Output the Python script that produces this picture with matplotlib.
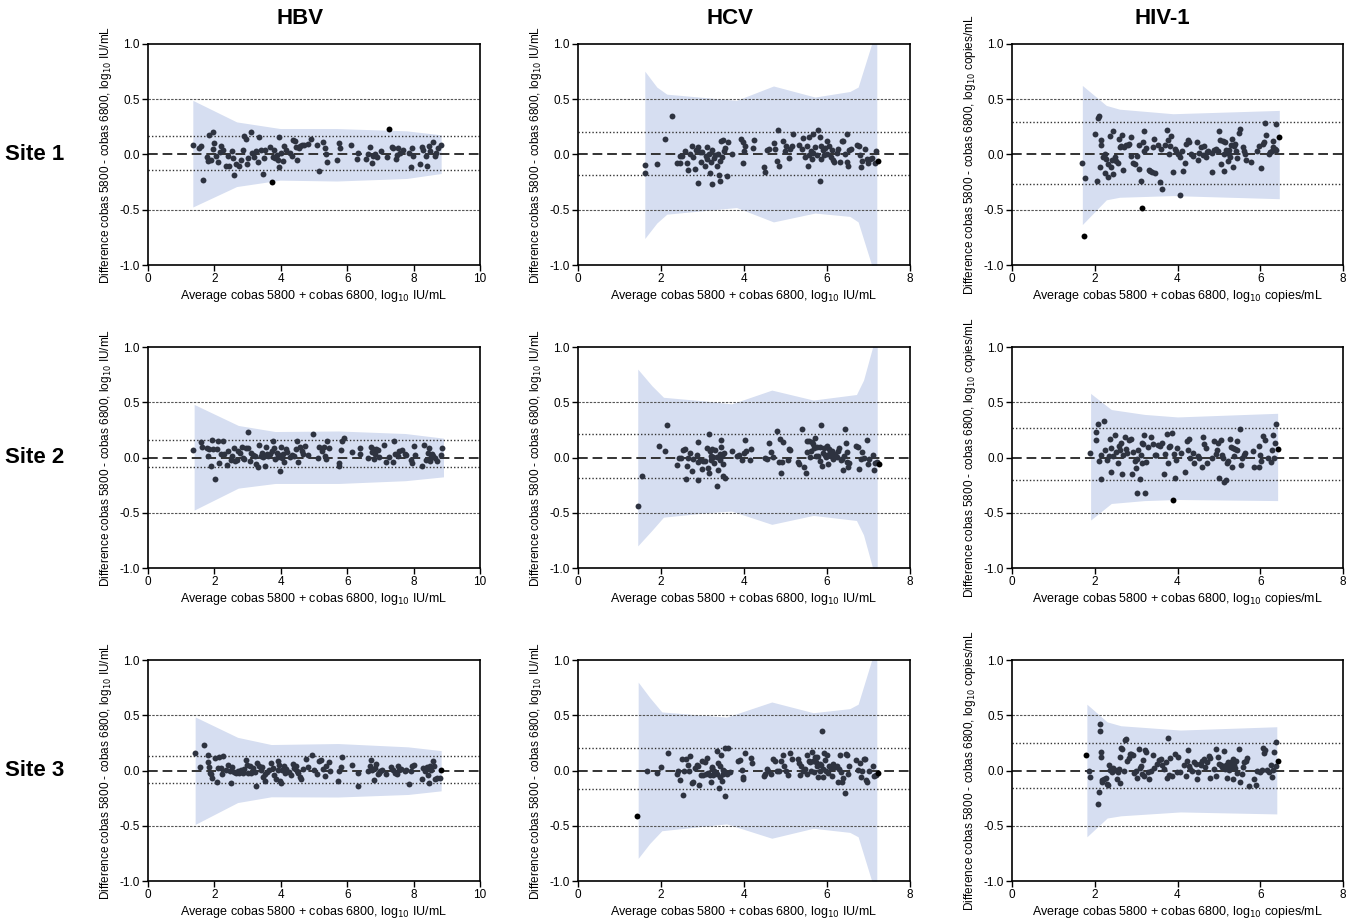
import matplotlib
matplotlib.use('Agg')
import matplotlib.pyplot as plt

plt.rcParams['font.family'] = ['Liberation Sans', 'DejaVu Sans']
plt.rcParams['axes.unicode_minus'] = False

# ---------------- labels ----------------
assays = ['HBV', 'HCV', 'HIV-1']
sites = ['Site 1', 'Site 2', 'Site 3']
units = ['IU/mL', 'IU/mL', 'copies/mL']
x_max = [10, 8, 8]
y_ticks = [-1.0, -0.5, 0.0, 0.5, 1.0]
y_tick_labels = ['-1.0', '-0.5', '0.0', '0.5', '1.0']

# ---------------- data: (average, difference) ----------------
hbv_s1 = [(1.35,0.085),(1.55,0.06),(1.6,0.08),(1.65,-0.23),(1.77,-0.02),(1.8,-0.06),(1.83,0.18),(1.89,-0.05),(1.95,0.05),(1.97,0.2),(2.0,0.1),(2.05,-0.015),(2.1,-0.07),(2.17,0.02),(2.2,0.075),(2.27,0.045),(2.35,-0.105),(2.4,-0.015),(2.45,-0.105),(2.52,0.03),(2.55,-0.035),(2.6,-0.19),(2.66,-0.085),(2.73,-0.1),(2.8,-0.05),(2.87,0.04),(2.9,0.17),(2.95,0.14),(2.99,-0.09),(3.02,-0.035),(3.1,0.2),(3.13,0.01),(3.19,-0.02),(3.26,0.035),(3.3,-0.065),(3.35,0.16),(3.4,0.04),(3.45,-0.18),(3.48,-0.035),(3.53,0.04),(3.67,0.07),(3.75,-0.02),(3.8,0.04),(3.84,-0.035),(3.88,-0.005),(3.92,-0.05),(3.96,0.16),(3.96,-0.11),(4.0,0.01),(4.06,-0.057),(4.1,0.075),(4.16,0.045),(4.28,0.01),(4.34,-0.015),(4.37,0.135),(4.43,0.125),(4.46,0.07),(4.48,-0.05),(4.54,0.06),(4.59,0.08),(4.65,0.09),(4.71,0.085),(4.81,0.095),(4.9,0.14),(5.1,0.09),(5.14,-0.145),(5.26,0.11),(5.33,0.06),(5.35,0.0),(5.38,-0.065),(5.68,-0.05),(5.76,0.1),(5.78,0.055),(6.11,0.09),(6.3,-0.045),(6.33,0.015),(6.57,-0.04),(6.64,0.0),(6.69,0.065),(6.76,-0.075),(6.79,-0.015),(6.85,0.0),(6.89,-0.027),(7.03,0.03),(7.19,-0.027),(7.34,0.065),(7.39,0.055),(7.46,-0.045),(7.49,-0.006),(7.54,0.06),(7.59,0.015),(7.69,0.04),(7.87,0.01),(7.91,-0.11),(7.94,0.055),(7.99,-0.015),(8.2,-0.09),(8.24,0.07),(8.29,0.04),(8.37,-0.015),(8.41,-0.1),(8.45,0.075),(8.49,0.03),(8.59,0.11),(8.64,-0.015),(8.67,0.01),(8.72,0.055),(8.83,0.09)]
hbv_s1_out = [(3.72,-0.25),(7.27,0.235)]

hbv_s2 = [(1.36,0.07),(1.59,0.14),(1.64,0.096),(1.77,0.084),(1.81,0.015),(1.85,0.075),(1.91,-0.075),(1.94,0.157),(1.97,0.075),(2.03,-0.196),(2.07,0.075),(2.11,0.15),(2.15,-0.054),(2.19,0.03),(2.27,0.145),(2.3,0.03),(2.38,-0.066),(2.42,0.06),(2.5,-0.024),(2.54,0.015),(2.58,0.084),(2.62,-0.03),(2.67,-0.024),(2.72,0.06),(2.77,0.045),(2.84,0.096),(2.87,0.0),(2.9,-0.015),(2.96,0.084),(3.0,0.235),(3.02,0.084),(3.07,-0.03),(3.1,0.045),(3.17,0.024),(3.22,0.015),(3.25,-0.06),(3.3,-0.084),(3.34,0.111),(3.4,0.015),(3.44,0.045),(3.47,0.006),(3.51,-0.078),(3.54,0.096),(3.58,0.036),(3.62,0.015),(3.67,0.03),(3.72,0.06),(3.76,0.145),(3.8,0.084),(3.83,-0.015),(3.88,0.045),(3.91,0.006),(3.94,0.024),(3.97,-0.126),(4.0,0.096),(4.03,-0.006),(4.07,0.036),(4.11,-0.045),(4.15,0.075),(4.19,0.054),(4.29,0.006),(4.35,0.024),(4.41,0.015),(4.46,0.075),(4.49,0.15),(4.51,-0.045),(4.58,0.096),(4.63,0.06),(4.68,0.03),(4.73,0.105),(4.83,0.024),(4.97,0.21),(5.11,-0.006),(5.15,0.096),(5.25,0.06),(5.29,0.096),(5.34,0.015),(5.36,-0.015),(5.4,0.15),(5.44,0.084),(5.74,-0.054),(5.76,-0.075),(5.82,0.066),(5.84,0.15),(5.9,0.175),(6.14,0.054),(6.38,0.084),(6.4,0.036),(6.62,0.0),(6.71,0.096),(6.75,0.054),(6.78,0.075),(6.82,-0.015),(6.85,0.03),(6.88,0.075),(6.93,0.066),(6.95,0.006),(7.12,0.114),(7.18,-0.045),(7.25,0.006),(7.37,-0.045),(7.4,0.15),(7.43,0.036),(7.53,0.015),(7.57,0.06),(7.65,0.066),(7.75,0.036),(7.78,0.024),(7.92,-0.024),(7.96,-0.054),(8.01,0.105),(8.04,0.024),(8.26,-0.075),(8.32,0.114),(8.38,-0.024),(8.42,0.045),(8.46,0.084),(8.48,-0.03),(8.52,0.006),(8.56,0.036),(8.59,0.015),(8.64,-0.006),(8.7,-0.036),(8.82,0.024),(8.86,0.09)]
hbv_s2_out = []

hbv_s3 = [(1.42,0.154),(1.56,0.033),(1.7,0.229),(1.8,0.136),(1.82,0.075),(1.84,0.033),(1.86,-0.021),(1.9,-0.036),(1.94,-0.066),(2.02,0.114),(2.08,-0.105),(2.1,0.024),(2.15,0.124),(2.2,0.024),(2.23,-0.036),(2.25,0.13),(2.35,0.009),(2.42,0.054),(2.46,-0.006),(2.5,-0.111),(2.52,0.033),(2.58,-0.015),(2.64,-0.027),(2.7,-0.006),(2.75,-0.021),(2.8,0.009),(2.85,-0.027),(2.9,0.015),(2.94,0.093),(2.98,0.054),(3.02,-0.027),(3.07,0.045),(3.11,-0.021),(3.17,0.024),(3.21,-0.015),(3.26,-0.142),(3.29,0.069),(3.33,0.045),(3.39,0.009),(3.43,0.033),(3.47,-0.057),(3.51,-0.096),(3.53,-0.036),(3.59,-0.015),(3.65,0.009),(3.71,0.069),(3.75,0.024),(3.81,-0.045),(3.86,-0.075),(3.91,0.084),(3.93,0.009),(3.96,0.054),(3.99,-0.096),(4.01,-0.117),(4.05,0.009),(4.09,0.039),(4.13,-0.027),(4.17,0.015),(4.26,-0.015),(4.31,-0.045),(4.36,0.063),(4.41,0.024),(4.45,0.045),(4.49,-0.006),(4.53,-0.027),(4.57,-0.057),(4.61,-0.075),(4.66,0.015),(4.75,0.105),(4.81,0.033),(4.93,0.139),(5.01,0.003),(5.09,-0.036),(5.14,0.09),(5.21,0.093),(5.27,0.015),(5.33,-0.051),(5.37,0.039),(5.44,0.075),(5.47,-0.006),(5.72,-0.096),(5.76,-0.006),(5.8,0.033),(5.85,0.124),(6.14,0.054),(6.32,-0.021),(6.34,-0.142),(6.62,-0.006),(6.69,0.045),(6.72,0.093),(6.75,0.003),(6.8,-0.087),(6.84,0.024),(6.88,0.063),(6.92,-0.036),(6.97,-0.027),(7.0,-0.006),(7.06,0.009),(7.17,-0.036),(7.33,0.033),(7.39,0.009),(7.45,-0.021),(7.49,-0.036),(7.53,0.039),(7.57,0.003),(7.63,0.015),(7.73,-0.006),(7.78,0.003),(7.85,-0.126),(7.91,-0.006),(7.95,0.039),(8.01,0.054),(8.25,-0.081),(8.28,0.024),(8.33,-0.006),(8.39,0.033),(8.43,-0.045),(8.45,-0.111),(8.49,0.039),(8.53,0.003),(8.57,0.084),(8.61,0.039),(8.65,-0.075),(8.71,-0.066),(8.79,-0.066)]
hbv_s3_out = [(8.83,0.003)]

hcv_s1 = [(1.61,-0.097),(1.61,-0.166),(1.9,-0.087),(2.09,0.142),(2.27,0.344),(2.39,-0.08),(2.46,-0.08),(2.46,-0.01),(2.5,-0.01),(2.59,0.033),(2.62,-0.08),(2.66,-0.136),(2.7,0.0),(2.75,0.075),(2.78,-0.02),(2.81,-0.127),(2.84,0.04),(2.89,-0.256),(2.9,0.066),(2.94,0.027),(2.96,-0.07),(2.99,0.027),(3.05,-0.106),(3.08,-0.015),(3.1,0.066),(3.12,-0.045),(3.15,0.003),(3.18,-0.166),(3.21,-0.07),(3.23,-0.27),(3.24,0.04),(3.28,-0.036),(3.31,-0.006),(3.34,-0.1),(3.37,0.009),(3.4,-0.184),(3.41,-0.24),(3.42,-0.057),(3.44,0.118),(3.46,-0.02),(3.49,0.13),(3.52,0.03),(3.55,0.057),(3.58,-0.196),(3.61,0.112),(3.7,0.0),(3.93,0.136),(3.97,-0.075),(3.98,0.112),(4.0,0.033),(4.02,0.081),(4.22,0.06),(4.25,0.133),(4.49,-0.11),(4.5,-0.154),(4.56,0.04),(4.61,0.054),(4.72,0.1),(4.75,0.048),(4.79,-0.057),(4.82,0.22),(4.84,-0.1),(4.95,0.124),(4.99,0.03),(5.01,0.075),(5.08,-0.036),(5.11,0.054),(5.17,0.184),(5.15,0.075),(5.33,0.087),(5.39,0.048),(5.43,0.15),(5.48,-0.02),(5.51,0.075),(5.54,-0.106),(5.56,0.16),(5.57,-0.006),(5.61,0.03),(5.63,-0.045),(5.66,0.19),(5.67,0.015),(5.71,0.07),(5.75,-0.006),(5.79,0.22),(5.82,0.16),(5.83,-0.238),(5.85,-0.045),(5.86,0.081),(5.9,0.04),(5.93,-0.003),(5.96,0.063),(5.99,0.118),(6.01,0.009),(6.06,0.075),(6.09,-0.02),(6.12,0.04),(6.15,-0.05),(6.18,-0.07),(6.23,0.015),(6.27,0.054),(6.31,-0.066),(6.35,0.124),(6.39,0.124),(6.44,0.009),(6.47,0.184),(6.49,-0.066),(6.51,-0.1),(6.54,0.045),(6.57,0.054),(6.73,0.09),(6.78,0.075),(6.8,-0.006),(6.81,-0.11),(6.84,-0.057),(6.92,0.054),(6.96,-0.045),(6.99,-0.081),(7.04,-0.039),(7.08,-0.036),(7.16,-0.08),(7.19,0.033)]
hcv_s1_out = [(7.24,-0.063)]

hcv_s2 = [(1.44,-0.44),(1.54,-0.17),(1.96,0.1),(2.1,0.063),(2.14,0.295),(2.38,-0.072),(2.43,0.0),(2.47,0.0),(2.52,0.069),(2.58,0.078),(2.6,-0.193),(2.63,-0.081),(2.65,-0.003),(2.7,0.039),(2.75,-0.123),(2.78,-0.012),(2.86,0.027),(2.88,-0.042),(2.89,0.139),(2.9,-0.2),(2.94,-0.027),(2.99,-0.102),(3.02,-0.033),(3.06,-0.033),(3.12,0.087),(3.14,-0.093),(3.15,0.214),(3.16,-0.142),(3.18,0.063),(3.2,0.018),(3.21,-0.027),(3.24,0.078),(3.26,0.009),(3.28,-0.051),(3.31,0.069),(3.34,-0.262),(3.36,0.009),(3.38,-0.111),(3.41,0.033),(3.42,-0.027),(3.44,0.16),(3.45,0.099),(3.47,0.018),(3.49,-0.063),(3.5,-0.163),(3.52,0.039),(3.54,-0.181),(3.71,0.057),(3.84,0.018),(3.89,0.027),(3.94,-0.027),(4.0,0.039),(4.02,0.16),(4.05,0.063),(4.14,-0.027),(4.18,0.075),(4.5,-0.003),(4.55,-0.012),(4.61,0.13),(4.66,0.048),(4.69,0.009),(4.8,0.238),(4.84,-0.045),(4.87,0.166),(4.88,-0.142),(4.91,-0.045),(4.95,0.139),(5.07,-0.027),(5.09,0.078),(5.11,0.069),(5.3,-0.045),(5.33,-0.057),(5.39,0.259),(5.45,-0.087),(5.49,-0.142),(5.51,0.048),(5.53,0.148),(5.56,0.148),(5.59,0.003),(5.61,0.057),(5.64,0.139),(5.66,0.124),(5.69,0.087),(5.71,0.178),(5.73,0.018),(5.75,0.093),(5.79,0.018),(5.82,0.099),(5.83,-0.033),(5.86,0.292),(5.88,-0.075),(5.9,0.039),(5.93,0.087),(5.95,0.027),(5.98,0.009),(5.99,0.105),(6.02,-0.063),(6.04,0.078),(6.06,0.033),(6.09,0.018),(6.11,0.063),(6.15,-0.012),(6.19,0.033),(6.23,0.009),(6.26,0.057),(6.3,0.087),(6.33,-0.021),(6.35,-0.012),(6.38,-0.111),(6.41,0.018),(6.43,0.256),(6.46,0.13),(6.47,0.048),(6.49,-0.045),(6.51,-0.087),(6.54,-0.051),(6.71,0.108),(6.75,0.093),(6.78,-0.102),(6.81,-0.012),(6.84,0.048),(6.88,-0.003),(6.96,0.16),(6.98,-0.063),(7.01,-0.012),(7.1,0.027),(7.13,-0.117),(7.16,-0.051),(7.2,-0.042)]
hcv_s2_out = [(7.25,-0.057)]

hcv_s3 = [(1.66,-0.006),(1.91,-0.024),(2.01,0.033),(2.16,0.16),(2.38,-0.03),(2.42,0.0),(2.46,-0.082),(2.5,0.1),(2.53,-0.218),(2.55,-0.009),(2.61,0.106),(2.66,0.051),(2.68,0.0),(2.71,0.13),(2.75,-0.112),(2.78,-0.1),(2.81,0.027),(2.86,0.051),(2.9,0.045),(2.92,-0.13),(2.96,-0.039),(2.99,0.082),(3.02,-0.039),(3.05,0.076),(3.08,-0.03),(3.12,0.112),(3.14,-0.021),(3.18,-0.039),(3.2,-0.1),(3.23,0.021),(3.24,0.03),(3.26,-0.045),(3.28,0.0),(3.31,-0.015),(3.34,0.172),(3.36,-0.03),(3.37,0.069),(3.39,-0.154),(3.41,0.045),(3.42,-0.06),(3.44,0.142),(3.46,-0.091),(3.49,0.009),(3.5,-0.03),(3.52,-0.009),(3.54,-0.233),(3.55,0.202),(3.58,-0.03),(3.62,0.208),(3.66,-0.015),(3.86,0.082),(3.9,0.091),(3.94,0.009),(3.97,-0.06),(3.98,-0.076),(4.03,0.16),(4.18,0.112),(4.2,0.069),(4.48,-0.051),(4.51,-0.03),(4.55,0.015),(4.59,-0.009),(4.66,-0.03),(4.69,0.1),(4.75,0.082),(4.79,0.0),(4.85,-0.009),(4.9,0.088),(4.93,0.136),(4.96,0.045),(5.01,0.0),(5.06,-0.039),(5.12,0.16),(5.15,0.1),(5.3,0.1),(5.33,0.069),(5.35,-0.039),(5.37,0.039),(5.41,0.0),(5.47,0.015),(5.51,0.142),(5.53,-0.03),(5.56,0.082),(5.59,0.076),(5.62,0.0),(5.64,0.166),(5.67,0.082),(5.69,-0.015),(5.72,0.121),(5.73,0.076),(5.75,0.045),(5.77,0.121),(5.79,-0.06),(5.82,0.06),(5.83,0.0),(5.85,0.051),(5.88,0.353),(5.9,-0.06),(5.91,0.015),(5.93,0.16),(5.95,0.091),(5.98,-0.009),(5.99,0.142),(6.03,-0.021),(6.06,0.045),(6.09,0.021),(6.12,-0.051),(6.15,0.06),(6.19,0.03),(6.23,0.045),(6.27,-0.1),(6.3,0.015),(6.31,0.136),(6.33,-0.015),(6.35,-0.1),(6.39,-0.069),(6.43,-0.202),(6.46,0.151),(6.49,0.136),(6.51,-0.03),(6.54,0.045),(6.71,0.091),(6.75,0.009),(6.8,0.069),(6.81,-0.06),(6.84,0.0),(6.88,0.106),(6.92,0.1),(6.94,-0.082),(6.97,-0.1),(7.02,0.0),(7.1,0.039),(7.13,-0.051),(7.18,-0.039)]
hcv_s3_out = [(1.43,-0.408),(7.24,-0.021)]

hiv_s1 = [(1.69,-0.079),(1.77,-0.21),(2.01,0.187),(2.06,-0.236),(2.08,0.332),(2.1,0.344),(2.12,-0.11),(2.14,0.127),(2.14,0.082),(2.2,-0.024),(2.24,-0.17),(2.25,0.006),(2.28,-0.04),(2.32,-0.2),(2.33,-0.085),(2.36,0.163),(2.39,-0.115),(2.41,-0.054),(2.44,0.21),(2.45,-0.18),(2.5,-0.024),(2.52,-0.063),(2.55,-0.079),(2.59,0.136),(2.6,0.066),(2.64,0.073),(2.67,0.18),(2.68,-0.14),(2.71,0.066),(2.76,0.082),(2.8,0.088),(2.83,0.097),(2.88,0.157),(2.88,-0.018),(2.92,-0.079),(2.97,-0.09),(3.02,-0.018),(3.06,0.082),(3.08,-0.133),(3.12,-0.236),(3.16,0.112),(3.18,0.03),(3.2,0.21),(3.25,0.06),(3.31,-0.139),(3.34,-0.151),(3.38,-0.16),(3.41,0.066),(3.42,0.142),(3.45,-0.169),(3.53,0.082),(3.57,-0.245),(3.6,0.051),(3.63,-0.311),(3.69,0.082),(3.74,0.218),(3.77,0.127),(3.79,0.006),(3.81,0.073),(3.85,0.163),(3.89,-0.16),(3.93,0.051),(3.97,0.036),(4.0,0.006),(4.05,-0.024),(4.07,-0.363),(4.1,0.036),(4.14,-0.151),(4.19,-0.079),(4.21,0.091),(4.25,0.127),(4.27,0.112),(4.33,0.0),(4.37,-0.018),(4.47,0.112),(4.49,-0.054),(4.53,0.012),(4.57,0.066),(4.61,-0.009),(4.65,0.073),(4.68,-0.024),(4.72,0.021),(4.73,0.036),(4.83,0.018),(4.84,-0.16),(4.89,0.042),(4.93,0.051),(4.97,0.03),(5.01,0.21),(5.03,0.127),(5.06,-0.085),(5.09,0.118),(5.12,-0.151),(5.13,0.006),(5.16,0.112),(5.17,0.042),(5.21,-0.06),(5.24,0.006),(5.25,0.042),(5.28,-0.024),(5.29,0.082),(5.32,0.142),(5.33,-0.109),(5.36,0.073),(5.38,0.097),(5.41,0.036),(5.45,-0.03),(5.49,0.193),(5.51,0.233),(5.59,0.066),(5.61,0.036),(5.64,0.006),(5.66,-0.054),(5.78,-0.069),(5.91,0.036),(5.96,0.073),(6.02,-0.121),(6.06,0.091),(6.1,0.112),(6.12,0.284),(6.14,0.172),(6.2,0.006),(6.23,0.021),(6.28,0.036),(6.3,0.121),(6.31,0.066),(6.35,0.051),(6.38,0.272),(6.39,0.042)]
hiv_s1_out = [(1.73,-0.74),(3.14,-0.483),(6.46,0.157)]

hiv_s2 = [(1.89,0.042),(2.02,0.157),(2.04,0.232),(2.08,0.307),(2.1,-0.03),(2.14,-0.193),(2.16,0.021),(2.22,0.328),(2.24,0.066),(2.3,-0.024),(2.34,0.012),(2.37,0.166),(2.39,0.09),(2.4,-0.13),(2.44,0.018),(2.48,0.208),(2.51,0.051),(2.55,-0.048),(2.58,0.102),(2.6,0.066),(2.63,0.127),(2.66,-0.145),(2.68,0.021),(2.72,0.187),(2.75,0.081),(2.79,0.042),(2.82,0.157),(2.87,0.169),(2.9,-0.151),(2.93,0.051),(2.97,-0.03),(2.99,-0.093),(3.02,-0.325),(3.03,-0.018),(3.05,0.072),(3.09,-0.199),(3.11,0.021),(3.13,-0.054),(3.14,0.127),(3.17,0.12),(3.19,0.202),(3.22,-0.325),(3.25,-0.039),(3.29,0.096),(3.37,0.187),(3.41,0.12),(3.45,0.021),(3.49,0.021),(3.53,0.111),(3.58,0.102),(3.62,0.127),(3.67,-0.145),(3.7,0.036),(3.74,0.211),(3.77,-0.048),(3.8,0.096),(3.83,0.102),(3.86,0.223),(3.91,0.036),(3.94,-0.181),(3.97,-0.024),(3.99,0.09),(4.09,0.042),(4.17,-0.13),(4.23,0.15),(4.25,0.066),(4.27,0.163),(4.3,-0.009),(4.37,0.042),(4.41,-0.048),(4.49,0.012),(4.53,-0.009),(4.59,-0.09),(4.62,0.181),(4.65,0.12),(4.68,0.09),(4.72,-0.048),(4.83,0.0),(4.89,0.15),(4.93,0.036),(4.96,0.066),(4.99,0.127),(5.01,-0.181),(5.05,0.157),(5.08,0.021),(5.11,-0.009),(5.13,-0.22),(5.17,-0.205),(5.2,-0.048),(5.23,-0.03),(5.26,0.163),(5.29,0.096),(5.32,-0.09),(5.34,0.09),(5.37,0.012),(5.4,0.081),(5.43,0.151),(5.45,0.066),(5.52,0.262),(5.54,-0.069),(5.57,-0.009),(5.61,0.021),(5.63,0.042),(5.82,0.057),(5.86,-0.084),(5.97,0.102),(5.98,-0.084),(6.0,0.021),(6.03,-0.03),(6.07,0.193),(6.11,0.157),(6.18,0.0),(6.26,-0.039),(6.28,0.066),(6.32,0.208),(6.34,-0.009),(6.35,0.133),(6.38,0.307)]
hiv_s2_out = [(3.9,-0.386),(6.42,0.078)]

hiv_s3 = [(1.86,-0.006),(1.89,-0.057),(2.08,-0.3),(2.1,-0.193),(2.12,0.356),(2.13,0.417),(2.14,0.124),(2.16,0.169),(2.17,-0.088),(2.18,-0.103),(2.22,-0.079),(2.27,-0.066),(2.3,-0.118),(2.33,-0.133),(2.34,0.048),(2.38,0.003),(2.42,-0.012),(2.45,0.024),(2.48,0.003),(2.53,-0.079),(2.55,-0.012),(2.58,0.018),(2.6,0.124),(2.61,-0.109),(2.63,0.205),(2.67,0.193),(2.71,-0.006),(2.72,0.272),(2.75,0.284),(2.79,0.085),(2.82,0.115),(2.85,0.145),(2.88,0.151),(2.93,0.139),(2.96,-0.027),(3.0,-0.006),(3.03,-0.066),(3.06,0.199),(3.09,0.024),(3.11,0.042),(3.14,-0.036),(3.17,0.094),(3.19,-0.048),(3.22,0.184),(3.25,0.169),(3.29,-0.012),(3.32,-0.079),(3.35,-0.006),(3.4,0.139),(3.43,0.024),(3.51,0.063),(3.55,0.094),(3.59,0.103),(3.63,0.048),(3.67,0.018),(3.71,0.073),(3.75,-0.066),(3.78,0.29),(3.8,-0.042),(3.83,0.115),(3.87,-0.048),(3.95,0.145),(3.99,-0.018),(4.02,0.124),(4.06,-0.018),(4.15,0.054),(4.2,-0.048),(4.23,0.085),(4.25,0.184),(4.27,0.042),(4.31,0.012),(4.36,-0.006),(4.39,0.079),(4.44,0.063),(4.47,-0.079),(4.5,-0.012),(4.54,0.063),(4.57,0.048),(4.59,0.085),(4.63,0.103),(4.67,0.033),(4.71,0.073),(4.75,0.133),(4.78,0.115),(4.79,-0.066),(4.88,0.012),(4.92,0.199),(4.94,-0.048),(4.97,0.124),(5.0,0.063),(5.04,0.048),(5.08,0.033),(5.12,0.175),(5.15,0.018),(5.18,0.048),(5.2,-0.066),(5.21,0.079),(5.24,0.003),(5.26,0.024),(5.28,0.048),(5.3,0.073),(5.33,-0.079),(5.34,0.103),(5.36,0.048),(5.38,0.024),(5.41,0.085),(5.44,-0.027),(5.48,0.199),(5.52,-0.103),(5.55,-0.036),(5.58,0.033),(5.61,0.073),(5.65,0.085),(5.68,0.109),(5.72,-0.139),(5.84,-0.079),(5.9,-0.127),(5.92,-0.006),(6.0,-0.018),(6.04,0.003),(6.06,0.205),(6.1,0.154),(6.12,0.184),(6.16,0.003),(6.22,-0.012),(6.26,0.048),(6.28,-0.057),(6.31,0.003),(6.34,0.163),(6.37,0.254),(6.39,0.042)]
hiv_s3_out = [(1.78,0.139),(6.42,0.09)]

# ---------------- 95% bands (x, upper, lower) ----------------
hbv_s1_band_x = [1.35, 2.67, 3.98, 5.68, 7.79, 8.83]
hbv_s1_band_hi = [0.49, 0.295, 0.235, 0.235, 0.214, 0.178]
hbv_s1_band_lo = [-0.475, -0.29, -0.232, -0.24, -0.217, -0.172]
hbv_s2_band_x = [1.39, 2.72, 3.83, 5.74, 7.75, 8.9]
hbv_s2_band_hi = [0.48, 0.29, 0.235, 0.24, 0.217, 0.175]
hbv_s2_band_lo = [-0.476, -0.277, -0.235, -0.235, -0.21, -0.175]
hbv_s3_band_x = [1.42, 2.7, 3.71, 5.72, 7.83, 8.83]
hbv_s3_band_hi = [0.485, 0.3, 0.235, 0.244, 0.214, 0.18]
hbv_s3_band_lo = [-0.488, -0.29, -0.238, -0.24, -0.217, -0.184]

hcv_s1_band_x = [1.61, 1.9, 2.14, 3.82, 4.71, 5.71, 6.55, 6.75, 7.2]
hcv_s1_band_hi = [0.754, 0.61, 0.546, 0.49, 0.62, 0.52, 0.57, 0.61, 1.15]
hcv_s1_band_lo = [-0.76, -0.62, -0.54, -0.48, -0.61, -0.53, -0.56, -0.61, -1.15]
hcv_s2_band_x = [1.44, 1.78, 2.06, 3.1, 3.7, 4.67, 5.67, 6.71, 6.88, 7.21]
hcv_s2_band_hi = [0.8, 0.65, 0.545, 0.51, 0.485, 0.61, 0.52, 0.57, 0.7, 1.15]
hcv_s2_band_lo = [-0.8, -0.66, -0.54, -0.5, -0.485, -0.605, -0.524, -0.57, -0.7, -1.15]
hcv_s3_band_x = [1.45, 1.73, 2.02, 3.58, 4.67, 5.67, 6.55, 6.75, 7.2]
hcv_s3_band_hi = [0.8, 0.66, 0.53, 0.483, 0.62, 0.523, 0.56, 0.6, 1.15]
hcv_s3_band_lo = [-0.795, -0.66, -0.545, -0.483, -0.613, -0.523, -0.56, -0.6, -1.15]

hiv_s1_band_x = [1.7, 2.28, 2.6, 3.89, 6.46]
hiv_s1_band_hi = [0.625, 0.444, 0.41, 0.369, 0.399]
hiv_s1_band_lo = [-0.634, -0.41, -0.387, -0.372, -0.4]
hiv_s2_band_x = [1.9, 2.4, 3.2, 4.0, 6.42]
hiv_s2_band_hi = [0.58, 0.434, 0.39, 0.367, 0.4]
hiv_s2_band_lo = [-0.566, -0.416, -0.39, -0.38, -0.39]
hiv_s3_band_x = [1.81, 2.3, 2.63, 4.07, 6.4]
hiv_s3_band_hi = [0.6, 0.44, 0.405, 0.366, 0.396]
hiv_s3_band_lo = [-0.6, -0.43, -0.41, -0.375, -0.393]

# ---------------- limits of agreement (upper, lower) ----------------
hbv_loa = [(0.169, -0.139), (0.16, -0.09), (0.13, -0.117)]
hcv_loa = [(0.2, -0.184), (0.214, -0.19), (0.2, -0.163)]
hiv_loa = [(0.293, -0.266), (0.268, -0.2), (0.25, -0.157)]
accept_limit = 0.5

points = [[hbv_s1, hcv_s1, hiv_s1], [hbv_s2, hcv_s2, hiv_s2], [hbv_s3, hcv_s3, hiv_s3]]
outliers = [[hbv_s1_out, hcv_s1_out, hiv_s1_out], [hbv_s2_out, hcv_s2_out, hiv_s2_out], [hbv_s3_out, hcv_s3_out, hiv_s3_out]]
bands = [
    [(hbv_s1_band_x, hbv_s1_band_hi, hbv_s1_band_lo), (hcv_s1_band_x, hcv_s1_band_hi, hcv_s1_band_lo), (hiv_s1_band_x, hiv_s1_band_hi, hiv_s1_band_lo)],
    [(hbv_s2_band_x, hbv_s2_band_hi, hbv_s2_band_lo), (hcv_s2_band_x, hcv_s2_band_hi, hcv_s2_band_lo), (hiv_s2_band_x, hiv_s2_band_hi, hiv_s2_band_lo)],
    [(hbv_s3_band_x, hbv_s3_band_hi, hbv_s3_band_lo), (hcv_s3_band_x, hcv_s3_band_hi, hcv_s3_band_lo), (hiv_s3_band_x, hiv_s3_band_hi, hiv_s3_band_lo)],
]
loas = [hbv_loa, hcv_loa, hiv_loa]

# ---------------- figure ----------------
W, H = 1357, 922
fig = plt.figure(figsize=(W / 100, H / 100), dpi=100)

col_left = [148, 578, 1012]
col_width = [332, 332, 331]
row_top = [44, 347, 660]
row_height = 221
title_x = [300, 730, 1162]

band_color = '#d6def1'
dot_color = '#2e3340'

for r in range(3):
    for c in range(3):
        ax = fig.add_axes([col_left[c] / W, 1 - (row_top[r] + row_height) / H,
                           col_width[c] / W, row_height / H])
        bx, bhi, blo = bands[r][c]
        ax.fill_between(bx, blo, bhi, color=band_color, lw=0, zorder=1)
        ax.axhline(accept_limit, color='#555555', lw=0.8, ls=(0, (2.2, 1.2)), zorder=2)
        ax.axhline(-accept_limit, color='#555555', lw=0.8, ls=(0, (2.2, 1.2)), zorder=2)
        up, lo = loas[c][r]
        ax.axhline(up, color='#333333', lw=1.0, ls=(0, (1, 1.5)), zorder=2)
        ax.axhline(lo, color='#333333', lw=1.0, ls=(0, (1, 1.5)), zorder=2)
        ax.axhline(0.0, color='#333333', lw=1.4, ls=(0, (5, 2.5)), zorder=2)
        pts = points[r][c]
        ax.scatter([p[0] for p in pts], [p[1] for p in pts], s=18, color=dot_color,
                   linewidths=0, zorder=4)
        out = outliers[r][c]
        if out:
            ax.scatter([p[0] for p in out], [p[1] for p in out], s=18, color='black',
                       linewidths=0, zorder=5)
        ax.set_xlim(0, x_max[c])
        ax.set_ylim(-1.0, 1.0)
        ax.set_xticks(list(range(0, x_max[c] + 1, 2)))
        ax.set_yticks(y_ticks)
        ax.set_yticklabels(y_tick_labels)
        ax.tick_params(labelsize=8.5, length=4, width=1.0, direction='out', pad=2)
        for sp in ax.spines.values():
            sp.set_linewidth(1.2)
        ax.set_xlabel('Average cobas 5800 + cobas 6800, log$_{10}$ ' + units[c],
                      fontsize=9, labelpad=2)
        ax.set_ylabel('Difference cobas 5800 - cobas 6800, log$_{10}$ ' + units[c],
                      fontsize=8.5, labelpad=4)

for c in range(3):
    fig.text(title_x[c] / W, 1 - 19 / H, assays[c], ha='center', va='center',
             fontsize=16, fontweight='bold')
for r in range(3):
    yc = 1 - (row_top[r] + row_height / 2) / H
    fig.text(35 / W, yc, sites[r], ha='center', va='center',
             fontsize=16, fontweight='bold')

fig.savefig('out.png', dpi=100)
